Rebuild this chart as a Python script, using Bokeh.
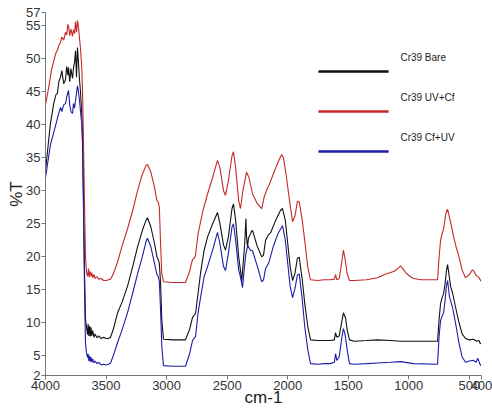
from bokeh.plotting import figure
from bokeh.models import Range1d, FixedTicker, Label, ColumnDataSource
from bokeh.embed import file_html
from bokeh.resources import INLINE

# ---------------- data ----------------
red_w = [4000, 3975, 3950, 3934, 3915, 3901, 3890, 3876, 3865, 3850, 3835, 3825, 3815, 3810, 3800, 3790,
         3777, 3769, 3760, 3752, 3744, 3736, 3728, 3719, 3711, 3700, 3694, 3686, 3678, 3670, 3662, 3653,
         3645, 3640, 3632, 3625, 3618, 3610, 3600, 3590, 3575, 3560, 3540, 3520, 3500, 3480, 3463, 3440,
         3405, 3370, 3323, 3280, 3240, 3200, 3170, 3158, 3130, 3100, 3080, 3070, 3060, 3050, 3040, 3026,
         2950, 2844, 2810, 2786, 2770, 2761, 2740, 2700, 2662, 2620, 2580, 2560, 2530, 2514, 2490, 2460,
         2448, 2430, 2405, 2390, 2370, 2340, 2320, 2290, 2250, 2215, 2195, 2170, 2150, 2120, 2080, 2050,
         2035, 2010, 1985, 1960, 1940, 1920, 1905, 1880, 1860, 1835, 1812, 1750, 1700, 1650, 1615, 1605,
         1595, 1575, 1555, 1540, 1525, 1510, 1490, 1450, 1350, 1258, 1200, 1120, 1085, 1069, 1050, 1027,
         990, 961, 900, 763, 750, 738, 725, 713, 695, 680, 665, 650, 630, 610, 590, 560, 532, 500, 475,
         466, 445, 420, 405]
red_v = [43.0, 45.5, 48.3, 49.5, 50.8, 51.3, 52.0, 52.5, 53.3, 52.8, 54.0, 53.6, 55.2, 55.0, 53.5, 54.5,
         53.4, 54.4, 53.8, 55.6, 54.0, 55.8, 54.8, 53.0, 51.5, 48.5, 45.0, 37.0, 28.0, 20.0, 17.8, 17.0,
         18.2, 16.9, 17.8, 17.0, 17.6, 16.8, 17.3, 16.7, 17.0, 16.6, 16.7, 16.4, 16.4, 16.5, 16.6, 17.4,
         19.2, 21.5, 24.2, 27.0, 30.0, 32.5, 33.8, 34.0, 32.8, 30.5, 28.5, 28.3, 27.5, 22.0, 17.5, 16.2,
         16.1, 16.1, 17.8, 19.6, 19.8, 20.3, 23.5, 27.0, 29.5, 32.0, 34.6, 33.5, 30.0, 29.3, 31.5, 35.3,
         35.9, 33.5, 28.5, 27.3, 30.0, 32.8, 32.0, 29.5, 28.0, 27.3, 29.0, 30.3, 31.0, 32.5, 34.3, 35.5,
         35.0, 32.0, 28.5, 25.3, 26.2, 28.4, 28.3, 25.5, 22.5, 18.5, 16.5, 16.4, 16.5, 16.5, 16.6, 17.3,
         16.5, 16.7, 19.0, 21.0, 19.5, 17.5, 16.4, 16.4, 16.5, 16.8, 17.3, 17.8, 18.3, 18.6, 18.2, 17.6,
         17.0, 16.7, 16.5, 16.5, 20.0, 22.5, 23.5, 24.2, 26.5, 27.2, 26.0, 24.8, 23.0, 21.5, 20.3, 18.0,
         16.8, 17.3, 18.0, 17.9, 17.2, 16.8, 16.3]

black_w = [4000, 3975, 3959, 3934, 3915, 3901, 3890, 3876, 3865, 3850, 3835, 3825, 3815, 3810, 3800, 3790,
           3777, 3769, 3760, 3752, 3744, 3736, 3728, 3719, 3711, 3700, 3694, 3686, 3678, 3670, 3662, 3653,
           3648, 3642, 3636, 3630, 3624, 3618, 3610, 3600, 3590, 3575, 3560, 3540, 3520, 3500, 3480, 3463,
           3440, 3405, 3370, 3323, 3280, 3240, 3200, 3170, 3158, 3130, 3100, 3080, 3070, 3060, 3050, 3040,
           3026, 2950, 2844, 2810, 2786, 2770, 2761, 2740, 2720, 2690, 2662, 2620, 2580, 2560, 2530, 2514,
           2490, 2460, 2448, 2430, 2405, 2390, 2380, 2370, 2355, 2345, 2340, 2332, 2324, 2300, 2291, 2250,
           2215, 2200, 2183, 2160, 2142, 2100, 2060, 2043, 2020, 2000, 1980, 1960, 1940, 1920, 1905, 1880,
           1860, 1835, 1812, 1750, 1700, 1650, 1615, 1605, 1595, 1575, 1555, 1540, 1530, 1523, 1510, 1490,
           1450, 1350, 1258, 1150, 1069, 961, 763, 750, 738, 725, 713, 700, 690, 680, 670, 655, 639, 610,
           590, 560, 532, 500, 466, 440, 420, 410, 405]
black_v = [33.0, 37.5, 40.2, 43.0, 44.5, 44.8, 46.5, 47.2, 48.2, 46.2, 46.8, 48.8, 47.5, 48.7, 46.5, 48.5,
           47.0, 48.6, 49.5, 51.2, 47.2, 51.7, 49.5, 46.8, 45.0, 41.5, 37.5, 28.0, 18.0, 10.5, 9.5, 8.2,
           9.8, 8.0, 9.5, 7.9, 9.3, 8.0, 8.8, 7.8, 8.3, 7.7, 8.0, 7.6, 7.8, 7.6, 7.6, 7.8,
           9.0, 11.5, 13.0, 15.5, 18.5, 21.5, 24.0, 25.5, 25.9, 24.5, 22.0, 20.0, 19.6, 19.0, 16.0, 10.5,
           7.5, 7.4, 7.4, 9.0, 10.8, 11.2, 11.4, 14.5, 17.5, 21.0, 23.0, 25.0, 26.7, 25.0, 21.8, 21.0,
           23.0, 27.3, 28.0, 25.5, 20.0, 17.9, 16.2, 18.5, 22.0, 25.8, 23.0, 21.5, 22.8, 23.8, 24.0, 21.5,
           20.0, 20.2, 22.5, 23.3, 23.6, 25.5, 27.0, 27.3, 25.5, 22.0, 18.5, 16.4, 17.5, 19.8, 19.9, 16.5,
           13.0, 9.5, 7.4, 7.3, 7.3, 7.3, 7.4, 8.5, 7.8, 8.0, 10.0, 11.5, 11.0, 10.8, 9.0, 7.4,
           7.2, 7.3, 7.4, 7.3, 7.2, 7.2, 7.2, 10.5, 12.9, 13.8, 14.4, 16.0, 17.8, 18.8, 17.5, 15.5, 14.5, 12.0,
           10.3, 8.3, 7.6, 7.4, 7.5, 7.2, 7.3, 6.8, 6.9]

blue_w = [4000, 3975, 3959, 3934, 3915, 3901, 3890, 3876, 3865, 3850, 3835, 3825, 3810, 3800, 3790, 3777,
          3769, 3760, 3752, 3744, 3736, 3728, 3719, 3711, 3700, 3694, 3686, 3678, 3670, 3662, 3653, 3648,
          3642, 3636, 3630, 3624, 3618, 3610, 3600, 3590, 3575, 3560, 3540, 3520, 3500, 3480, 3463, 3440,
          3405, 3370, 3323, 3280, 3240, 3200, 3170, 3158, 3130, 3100, 3080, 3070, 3060, 3050, 3040, 3026,
          2950, 2844, 2810, 2786, 2770, 2761, 2740, 2720, 2690, 2662, 2620, 2580, 2560, 2530, 2514, 2490,
          2460, 2448, 2430, 2405, 2390, 2373, 2360, 2345, 2330, 2310, 2291, 2250, 2215, 2200, 2183, 2158,
          2120, 2080, 2043, 2020, 2000, 1980, 1960, 1940, 1920, 1905, 1880, 1860, 1835, 1812, 1750, 1700,
          1650, 1615, 1605, 1595, 1575, 1555, 1540, 1530, 1523, 1510, 1490, 1450, 1350, 1258, 1150, 1069,
          961, 763, 750, 738, 725, 713, 700, 690, 680, 665, 650, 639, 610, 590, 560, 532, 500, 466, 445,
          430, 415, 405]
blue_v = [32.0, 35.0, 37.0, 38.7, 40.0, 41.0, 41.8, 42.6, 42.0, 43.0, 43.2, 44.2, 45.2, 43.0, 42.0, 41.7,
          43.2, 42.5, 43.7, 44.8, 45.9, 45.0, 43.7, 42.0, 40.0, 37.0, 27.0, 15.0, 7.0, 5.5, 4.7, 5.3,
          4.2, 5.0, 4.1, 4.8, 4.0, 4.5, 3.9, 4.2, 3.8, 4.0, 3.6, 3.7, 3.6, 3.7, 3.9, 5.0,
          7.0, 8.8, 11.5, 14.5, 17.4, 20.0, 22.3, 22.8, 21.5, 19.0, 17.3, 17.0, 16.3, 12.0, 6.5, 3.5,
          3.4, 3.4, 5.3, 7.3, 7.7, 7.9, 11.5, 13.8, 17.0, 18.5, 21.0, 23.7, 22.0, 18.5, 17.9, 20.5,
          24.5, 25.0, 22.5, 18.0, 16.9, 15.3, 18.0, 20.5, 21.7, 21.0, 20.9, 18.5, 16.2, 16.5, 18.2, 19.0,
          21.5, 23.5, 24.7, 22.5, 19.0, 15.5, 13.8, 15.2, 17.2, 17.4, 13.5, 9.5, 6.0, 3.8, 3.7, 3.8,
          3.8, 4.0, 5.3, 4.3, 4.8, 7.5, 9.1, 8.5, 7.8, 6.0, 3.8, 3.7, 3.8, 3.9, 4.0, 4.1,
          3.8, 3.7, 8.0, 10.3, 11.0, 11.5, 13.5, 15.5, 16.4, 14.0, 13.0, 12.3, 9.5, 7.3, 4.8, 4.0, 4.2, 4.3, 4.0,
          4.6, 3.8, 3.5]

series_names = ["Cr39 Bare", "Cr39 UV+Cf", "Cr39 Cf+UV"]
series_colors = ["#111111", "#c62828", "#1c1ca8"]

x_ticks = [4000, 3500, 3000, 2500, 2000, 1500, 1000, 500, 400]
y_ticks = [2, 5, 10, 15, 20, 25, 30, 35, 40, 45, 50, 55, 57]
X_START, X_END = 4000, 400
Y_START, Y_END = 2, 57

FONT = "Liberation Sans"

# ---------------- figure ----------------
p = figure(width=492, height=412, output_backend="svg", toolbar_location=None,
           x_range=Range1d(X_START, X_END), y_range=Range1d(Y_START, Y_END),
           min_border_left=45, min_border_right=11, min_border_top=12, min_border_bottom=37)
p.outline_line_color = None
p.grid.grid_line_color = None
p.background_fill_color = "white"

for w, v, c in zip([black_w, red_w, blue_w], [black_v, red_v, blue_v], series_colors):
    p.line(w, v, line_color=c, line_width=1.1)

# axes
for ax in (p.xaxis[0], p.yaxis[0]):
    ax.axis_line_color = "#777777"
    ax.major_tick_line_color = "#777777"
    ax.minor_tick_line_color = None
    ax.major_tick_out = 4
    ax.major_tick_in = 0
    ax.major_label_standoff = 1
    ax.major_label_text_font = FONT
    ax.major_label_text_font_size = "13px"
    ax.major_label_text_color = "#333333"
    ax.axis_label_text_font = FONT
    ax.axis_label_text_font_style = "normal"
    ax.axis_label_text_color = "#222222"

p.xaxis.ticker = FixedTicker(ticks=x_ticks)
p.yaxis.ticker = FixedTicker(ticks=y_ticks)
p.xaxis.axis_label = "cm-1"
p.xaxis.axis_label_text_font_size = "17px"
p.xaxis.axis_label_standoff = -5
p.yaxis.axis_label = "%T"
p.yaxis.axis_label_text_font_size = "17px"
p.yaxis.axis_label_standoff = -3

# legend (drawn by hand: label above-right of a line sample)
span_x = X_END - X_START
span_y = Y_END - Y_START
leg_x0 = X_START + 0.626 * span_x
leg_x1 = X_START + 0.787 * span_x
leg_tx = X_START + 0.814 * span_x
line_fy = [0.1625, 0.273, 0.383]
text_fy = [0.124, 0.234, 0.344]
seg = ColumnDataSource(dict(
    x0=[leg_x0] * 3, x1=[leg_x1] * 3,
    y=[Y_END - f * span_y for f in line_fy], c=series_colors))
p.segment(x0="x0", y0="y", x1="x1", y1="y", line_color="c", line_width=2.5, source=seg)
for name, f in zip(series_names, text_fy):
    p.add_layout(Label(x=leg_tx, y=Y_END - f * span_y, text=name,
                       text_font=FONT, text_font_size="10px",
                       text_color="#222222", text_baseline="middle", text_align="left"))

open("out.html", "w").write(file_html(p, INLINE))
